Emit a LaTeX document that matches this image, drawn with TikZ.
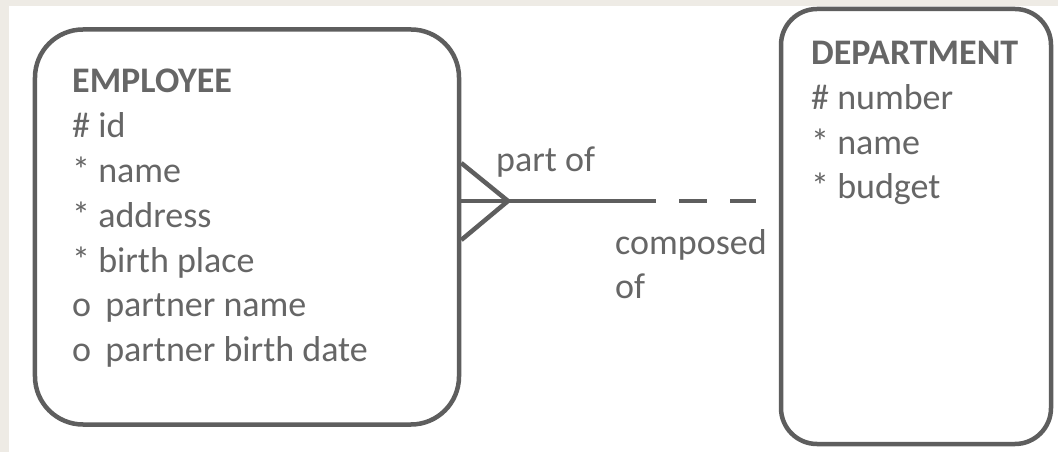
\documentclass[tikz,border=0pt]{standalone}
\usepackage{fontspec}
\setmainfont{Carlito}
\definecolor{bgc}{HTML}{EEEBE5}
\definecolor{linec}{HTML}{5E5E5E}
\definecolor{txtc}{HTML}{666666}
\begin{document}
\begin{tikzpicture}[x=1bp,y=-1bp,
  entity/.style={draw=linec,line width=4.5bp,fill=white,inner sep=0pt},
  rel/.style={draw=linec,line width=4.5bp},
  attrs/.style={anchor=north west,inner sep=0pt,align=left,text=txtc,
    font=\fontsize{36bp}{44.8bp}\selectfont},
  lbl/.style={inner sep=0pt,align=left,text=txtc,
    font=\fontsize{36bp}{44bp}\selectfont}]
\useasboundingbox (0,0) rectangle (1058,452);
\fill[bgc] (0,0) rectangle (1058,452);
\fill[white] (9,6) rectangle (1058,452);
% entities
\node[entity,rounded corners=48bp,minimum width=424bp,minimum height=395bp] (emp) at (247,227) {};
\node[entity,rounded corners=36bp,minimum width=270bp,minimum height=435bp] (dept) at (916,226.5) {};
% attribute texts
\node[attrs] (empt) at (72,69) {\textbf{EMPLOYEE}\\\# id\\* name\\* address\\* birth place\\o\, partner name\\o\, partner birth date};
\node[attrs] (deptt) at (811,41) {\textbf{DEPARTMENT}\\\# number\\* name\\* budget};
% relationship
\coordinate (apex) at (508,201);
\path (emp.east |- apex) coordinate (pm)
      ([yshift=38bp]pm) coordinate (pu)
      ([yshift=-39bp]pm) coordinate (pl);
\coordinate (mid) at (656,201);
\path ([xshift=-23bp]dept.west |- apex) coordinate (dend);
\draw[rel] (pm) -- (apex);
\draw[rel,line join=miter] (pu) -- (apex) -- (pl);
\draw[rel] (apex) -- (mid);
\draw[rel,dash pattern=on 28bp off 23bp,dash phase=28bp] (mid) -- (dend);
\node[lbl,anchor=base west] (partof) at (496,172) {part of};
\node[lbl,anchor=north west] (compof) at (615,229) {composed\\of};
\end{tikzpicture}
\end{document}
